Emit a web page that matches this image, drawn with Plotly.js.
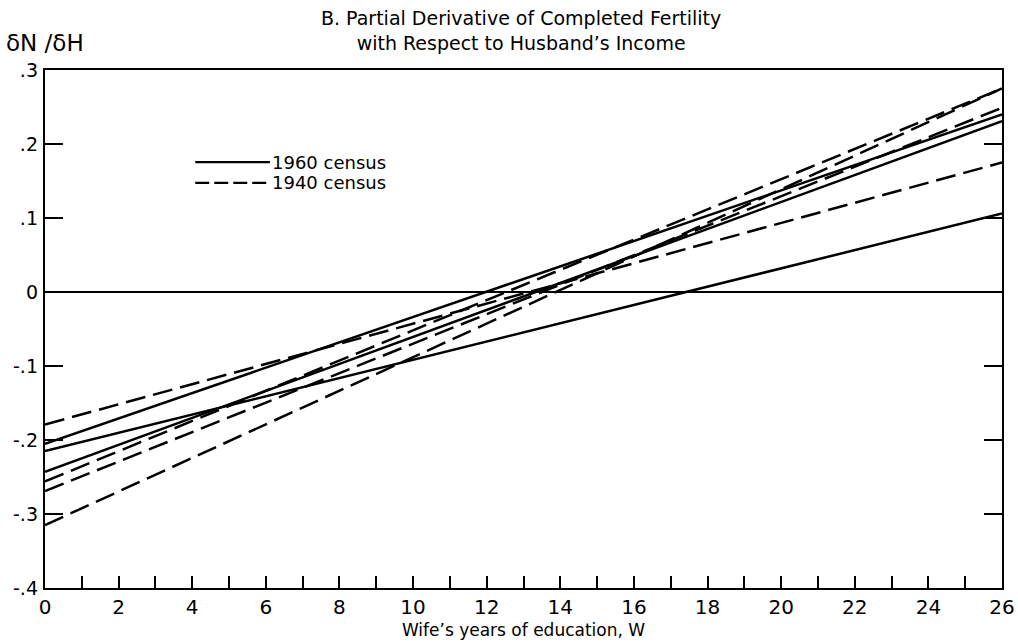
<!DOCTYPE html>
<html>
<head>
<meta charset="utf-8">
<script src="https://cdn.plot.ly/plotly-3.0.1.min.js"></script>
<style>html,body{margin:0;padding:0;background:#fff;}#chart{width:1018px;height:644px;}</style>
</head>
<body>
<div id="chart"></div>
<script>
// Wife's years of education (line endpoints)
const educ = [0, 26];
// 1960 census lines: partial derivative at W=0 and W=26
const census1960 = [
  [-0.205, 0.240],
  [-0.215, 0.106],
  [-0.243, 0.231]
];
// 1940 census lines
const census1940 = [
  [-0.179, 0.175],
  [-0.256, 0.275],
  [-0.269, 0.249],
  [-0.315, 0.275]
];
const xTickVals = [0,1,2,3,4,5,6,7,8,9,10,11,12,13,14,15,16,17,18,19,20,21,22,23,24,25,26];
const xTickText = ["0","","2","","4","","6","","8","","10","","12","","14","","16","","18","","20","","22","","24","","26"];
const yTickVals = [-0.4, -0.3, -0.2, -0.1, 0, 0.1, 0.2, 0.3];
const yTickText = ["-.4", "-.3", "-.2", "-.1", "0", ".1", ".2", ".3"];
const legendLabels = ["1960 census", "1940 census"];
const titleText = "B. Partial Derivative of Completed Fertility<br>with Respect to Husband\u2019s Income";
const yLabel = "\u03b4N /\u03b4H";
const xLabel = "Wife\u2019s years of education, W";

const FONT = "DejaVu Sans, Liberation Sans, sans-serif";
const traces = [];
census1960.forEach(v => traces.push({
  x: educ, y: v, mode: "lines", showlegend: false, hoverinfo: "skip",
  line: {color: "#000", width: 2.5}
}));
census1940.forEach(v => traces.push({
  x: educ, y: v, mode: "lines", showlegend: false, hoverinfo: "skip",
  line: {color: "#000", width: 2.5, dash: "20px,8px"}
}));

const layout = {
  width: 1018, height: 644,
  margin: {l: 45, r: 16, t: 70, b: 56},
  paper_bgcolor: "#fff", plot_bgcolor: "#fff",
  font: {family: FONT, color: "#000"},
  xaxis: {
    range: [0, 26], tickvals: xTickVals, ticktext: xTickText,
    ticks: "inside", ticklen: 12, tickwidth: 2, tickcolor: "#000",
    showline: true, linecolor: "#000", linewidth: 2.2, mirror: true,
    showgrid: false, zeroline: false,
    tickfont: {size: 20, family: FONT, color: "#000"},
    title: {text: xLabel, font: {size: 17, family: FONT, color: "#000"}, standoff: 6}
  },
  yaxis: {
    range: [-0.4, 0.3], tickvals: yTickVals, ticktext: yTickText,
    ticks: "inside", ticklen: 18, tickwidth: 2.2, tickcolor: "#000",
    showline: true, linecolor: "#000", linewidth: 2.2, mirror: "ticks",
    showgrid: false, zeroline: true, zerolinecolor: "#000", zerolinewidth: 1.6,
    tickfont: {size: 19, family: FONT, color: "#000"},
    ticklabelstandoff: 1
  },
  shapes: [
    {type: "line", xref: "paper", yref: "paper", x0: 0.157, x1: 0.235, y0: 0.822, y1: 0.822, line: {color: "#000", width: 2.2}},
    {type: "line", xref: "paper", yref: "paper", x0: 0.157, x1: 0.235, y0: 0.782, y1: 0.782, line: {color: "#000", width: 2.2, dash: "14px,5px"}}
  ],
  annotations: [
    {xref: "paper", yref: "paper", x: 0.235, y: 0.822, xanchor: "left", yanchor: "middle", showarrow: false, text: legendLabels[0], font: {size: 18, family: FONT, color: "#000"}},
    {xref: "paper", yref: "paper", x: 0.235, y: 0.782, xanchor: "left", yanchor: "middle", showarrow: false, text: legendLabels[1], font: {size: 18, family: FONT, color: "#000"}},
    {xref: "paper", yref: "paper", x: 0.497, y: 1.077, xanchor: "center", yanchor: "middle", showarrow: false, text: titleText, font: {size: 19, family: FONT, color: "#000"}},
    {xref: "paper", yref: "paper", x: -0.043, y: 1.052, xanchor: "left", yanchor: "middle", showarrow: false, text: yLabel, font: {size: 23, family: FONT, color: "#000"}}
  ]
};

Plotly.newPlot("chart", traces, layout, {displayModeBar: false, staticPlot: true});
</script>
</body>
</html>
